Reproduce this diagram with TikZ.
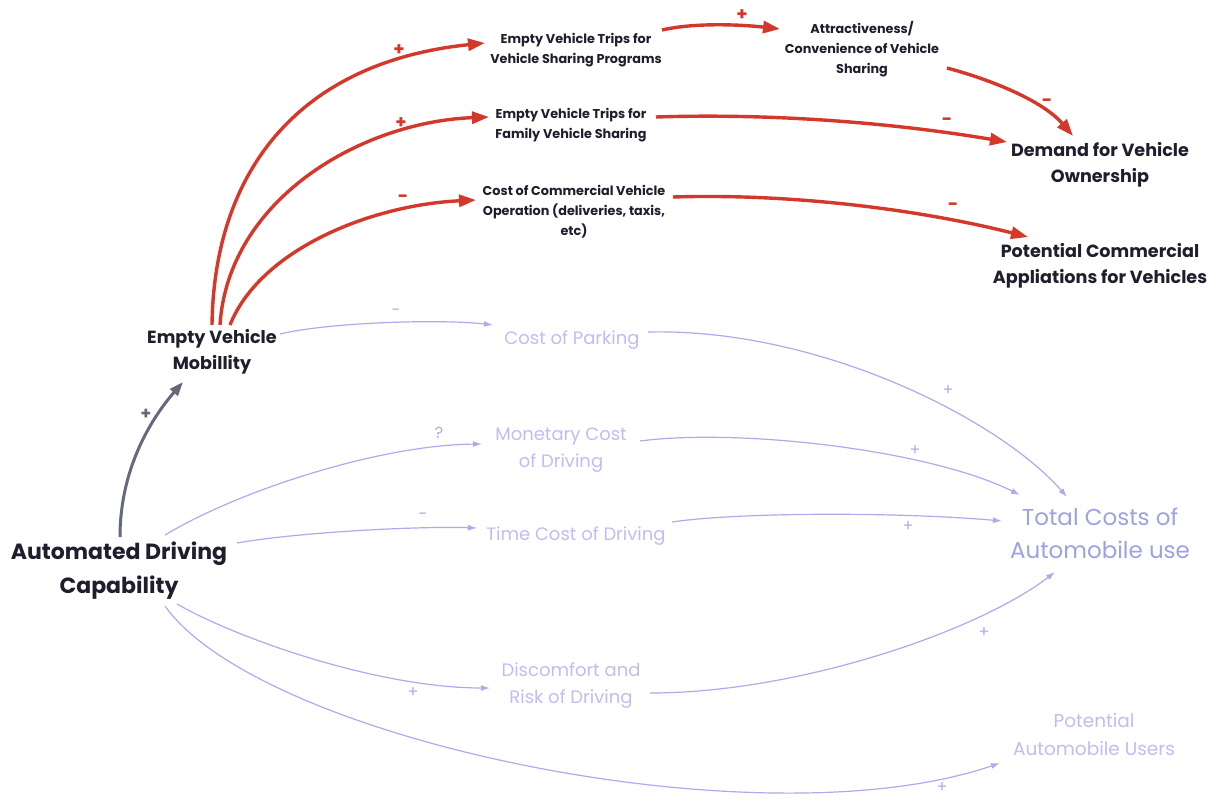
\documentclass[tikz,border=0pt]{standalone}
\usepackage{fontspec}
\setmainfont{Poppins}
\usetikzlibrary{arrows.meta,calc}

\definecolor{ink}{RGB}{30,30,45}
\definecolor{linkred}{RGB}{212,56,42}
\definecolor{linkgray}{RGB}{100,105,125}
\definecolor{lavline}{RGB}{172,172,236}
\definecolor{lavtext}{RGB}{190,190,242}
\definecolor{lavdark}{RGB}{158,162,224}

\tikzset{
  bigvar/.style={text=ink, align=center, inner sep=1pt,
    font=\fontsize{22}{34}\selectfont\bfseries},
  midvar/.style={text=ink, align=center, inner sep=1pt,
    font=\fontsize{17.6}{26}\selectfont\bfseries},
  smallvar/.style={text=ink, align=center, inner sep=1pt,
    font=\fontsize{12.8}{20}\selectfont\bfseries},
  faintvar/.style={text=lavtext, align=center, inner sep=1pt,
    font=\fontsize{18}{27}\selectfont},
  redlink/.style={draw=linkred, line width=3.4pt,
    -{Triangle[length=17pt,width=12pt]}},
  graylink/.style={draw=linkgray, line width=3pt,
    -{Triangle[length=14pt,width=10pt]}},
  lavlink/.style={draw=lavline, line width=1.2pt,
    -{Latex[length=9pt,width=6pt]}},
  redsign/.style={text=linkred, inner sep=0pt, font=\fontsize{18}{18}\selectfont\bfseries},
  graysign/.style={text=linkgray, inner sep=0pt, font=\fontsize{17}{17}\selectfont\bfseries},
  lavsign/.style={text=lavline, inner sep=0pt, font=\fontsize{16}{16}\selectfont},
}

\begin{document}
\begin{tikzpicture}[x=1pt,y=-1pt]
\useasboundingbox (0,0) rectangle (1217,800);
\fill[white] (0,0) rectangle (1217,800);

% variables
\node[bigvar]   (adc)  at (119,571) {Automated Driving\\Capability};
\node[midvar]   (evm)  at (212,352) {Empty Vehicle\\Mobillity};
\node[smallvar] (vsp)  at (576,50)  {Empty Vehicle Trips for\\Vehicle Sharing Programs};
\node[smallvar] (att)  at (862,49)  {Attractiveness/\\Convenience of Vehicle\\Sharing};
\node[smallvar] (fam)  at (571,125) {Empty Vehicle Trips for\\Family Vehicle Sharing};
\node[smallvar] (com)  at (574,212) {Cost of Commercial Vehicle\\Operation (deliveries, taxis,\\etc)};
\node[midvar]   (dvo)  at (1100,165) {Demand for Vehicle\\Ownership};
\node[midvar]   (pca)  at (1100,266) {Potential Commercial\\Appliations for Vehicles};
\node[faintvar] (park) at (572,340) {Cost of Parking};
\node[faintvar] (mon)  at (561,450) {Monetary Cost\\of Driving};
\node[faintvar] (time) at (576,536) {Time Cost of Driving};
\node[faintvar, text=lavdark, font=\fontsize{23}{33}\selectfont] (tot) at (1100,533) {Total Costs of\\Automobile use};
\node[faintvar] (dis)  at (571,686) {Discomfort and\\Risk of Driving};
\node[faintvar, font=\fontsize{18.5}{28}\selectfont] (pau) at (1094,735) {Potential\\Automobile Users};

% red links
\draw[redlink] ($(evm)+(0,-27)$) .. controls +(2,-155) and +(-185,19) .. ($(vsp)+(-91,-7)$);
\draw[redlink] ($(evm)+(8,-27)$) .. controls +(8,-125) and +(-129,5) .. ($(fam)+(-82,-8)$);
\draw[redlink] ($(evm)+(18,-27)$) .. controls +(30,-75) and +(-106,5) .. ($(com)+(-98,-12)$);
\draw[redlink] ($(vsp)+(86,-20)$) .. controls +(35,-8) and +(-35,-4) .. ($(att)+(-82,-20)$);
\draw[redlink] ($(att)+(85,19)$) .. controls +(45,12) and +(-30,-35) .. ($(dvo)+(-27,-29)$);
\draw[redlink] ($(fam)+(85,-8)$) .. controls +(124,-4) and +(-107,-18) .. ($(dvo)+(-93,-23)$);
\draw[redlink] ($(com)+(99,-15)$) .. controls +(127,-4) and +(-98,-25) .. ($(pca)+(-72,-29)$);

% gray link
\draw[graylink] ($(adc)+(1,-34)$) .. controls +(0,-67) and +(-33,38) .. ($(evm)+(-29,30)$);

% lavender links
\draw[lavlink] ($(evm)+(68,-18)$) .. controls +(50,-12) and +(-50,-6) .. ($(park)+(-79,-15)$);
\draw[lavlink] ($(park)+(76,-8)$) .. controls +(172,-4) and +(-67,-77) .. ($(tot)+(-33,-36)$);
\draw[lavlink] ($(adc)+(46,-36)$) .. controls +(75,-45) and +(-102,1) .. ($(mon)+(-79,-6)$);
\draw[lavlink] ($(mon)+(79,-9)$) .. controls +(100,-13) and +(-90,-45) .. ($(tot)+(-80,-38)$);
\draw[lavlink] ($(adc)+(118,-28)$) .. controls +(63,-11) and +(-57,-2) .. ($(time)+(-99,-8)$);
\draw[lavlink] ($(time)+(96,-14)$) .. controls +(68,-10) and +(-102,-9) .. ($(tot)+(-98,-12)$);
\draw[lavlink] ($(adc)+(58,33)$) .. controls +(63,36) and +(-110,0) .. ($(dis)+(-81,2)$);
\draw[lavlink] ($(dis)+(79,7)$) .. controls +(150,0) and +(-75,58) .. ($(tot)+(-45,39)$);
\draw[lavlink] ($(adc)+(46,35)$) .. controls +(95,134) and +(-240,82) .. ($(pau)+(-94,28)$);

% polarity signs
\node[redsign] (s1) at (399,50)  {+};
\node[redsign] (s2) at (401,123) {+};
\node[redsign] (s3) at (403,199) {-};
\node[redsign] (s4) at (742,15)  {+};
\node[redsign] (s5) at (1047,103) {-};
\node[redsign] (s6) at (947,122) {-};
\node[redsign] (s7) at (953,207) {-};
\node[graysign] (s8) at (146,414) {+};
\node[lavsign] (s9)  at (396,312) {-};
\node[lavsign] (s10) at (439,433) {?};
\node[lavsign] (s11) at (423,516) {-};
\node[lavsign] (s12) at (948,391) {+};
\node[lavsign] (s13) at (915,451) {+};
\node[lavsign] (s14) at (908,527) {+};
\node[lavsign] (s15) at (413,693) {+};
\node[lavsign] (s16) at (984,633) {+};
\node[lavsign] (s17) at (942,788) {+};
\end{tikzpicture}
\end{document}
